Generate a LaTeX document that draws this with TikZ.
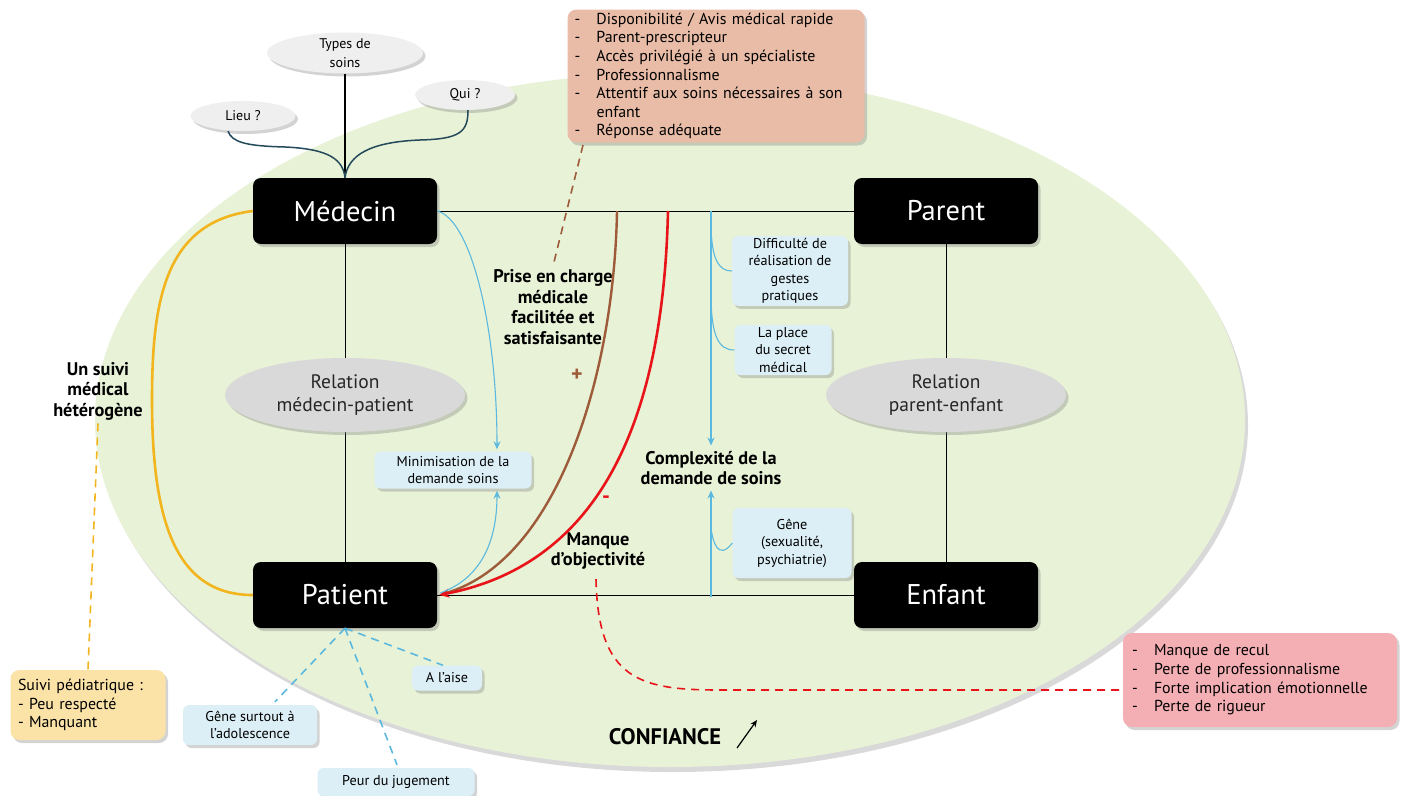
\documentclass[tikz,border=0pt]{standalone}
\usepackage{fontspec}
\setmainfont{PT Sans}
\usetikzlibrary{shadows,arrows.meta,shapes.geometric,calc}
\definecolor{bggreen}{HTML}{E8F2D7}
\definecolor{relgray}{HTML}{D9D9D9}
\definecolor{bubgray}{HTML}{EFEFEF}
\definecolor{lblue}{HTML}{DCEFF6}
\definecolor{bline}{HTML}{5BB8DE}
\definecolor{brownc}{HTML}{9E5B3A}
\definecolor{redc}{HTML}{E8141A}
\definecolor{goldc}{HTML}{F2B51E}
\definecolor{yellowbox}{HTML}{FBE3A8}
\definecolor{salmon}{HTML}{E8BCA6}
\definecolor{pinkbox}{HTML}{F4AFB4}
\definecolor{slate}{HTML}{24495A}
\tikzset{
  shad/.style={drop shadow={shadow xshift=2.5pt,shadow yshift=-3pt,opacity=0.35}},
  blackbox/.style={rectangle,rounded corners=8pt,fill=black,text=white,
    minimum width=184pt,minimum height=66pt,font=\fontsize{28.5}{32}\selectfont,shad},
  relell/.style={ellipse,fill=relgray,minimum width=240pt,minimum height=74pt,
    inner sep=0pt,align=center,font=\fontsize{19.5}{23}\selectfont,text=black!85,shad},
  bubble/.style={ellipse,fill=bubgray,inner sep=0pt,align=center,
    font=\fontsize{14}{19}\selectfont,shad},
  bluebox/.style={rectangle,rounded corners=6pt,fill=lblue,align=center,inner sep=2pt,
    font=\fontsize{14.2}{17.5}\selectfont,shad},
  boldlab/.style={align=center,font=\bfseries\fontsize{18.3}{20.5}\selectfont},
  listbox/.style={rectangle,rounded corners=9pt,align=left,inner sep=0pt,
    font=\fontsize{15.9}{18.6}\selectfont,shad},
  plainline/.style={line width=1pt,black},
  bthick/.style={line width=2.6pt,bline},
  bthin/.style={line width=1.1pt,bline},
  tip/.style={-{Stealth[length=8pt,width=7pt]}},
}
\newcommand{\itm}[1]{\makebox[22pt][l]{-}#1}
\begin{document}
\begin{tikzpicture}[x=1pt,y=-1pt]
\useasboundingbox (0,0) rectangle (1407,795);
% background ellipse
\fill[bggreen,drop shadow={shadow xshift=3pt,shadow yshift=-5pt,opacity=0.3}] (670,420) ellipse [x radius=575,y radius=347];

% main boxes
\node[blackbox] (med) at (345,211) {Médecin};
\node[blackbox] (par) at (946,211) {Parent};
\node[blackbox] (pat) at (345,595) {Patient};
\node[blackbox] (enf) at (946,595) {Enfant};

\draw[plainline] (med.east) -- (par.west);
\draw[plainline] (pat.east) -- (enf.west);
\draw[plainline] (med.south) -- (pat.north);
\draw[plainline] (par.south) -- (enf.north);

\node[relell] (relmp) at (345,395) {Relation\\médecin-patient};
\node[relell] (relpe) at (946,395) {Relation\\parent-enfant};

% bubbles
\node[bubble,minimum width=156pt,minimum height=40pt] (types) at (345,53) {Types de\\soins};
\node[bubble,minimum width=105pt,minimum height=30pt] (lieu) at (243,116) {Lieu ?};
\node[bubble,minimum width=100pt,minimum height=30pt] (qui) at (465,95) {Qui ?};
\draw[line width=1.3pt] (types.south) -- (med.north);
\draw[line width=1.5pt,slate] ($(lieu.south)+(-15,0)$) .. controls (232,142) and (245,146) .. (285,147)
   .. controls (330,149) and (343,160) .. (med.north);
\draw[line width=1.5pt,slate] ($(qui.south)+(3,0)$) .. controls (468,132) and (460,139) .. (420,140)
   .. controls (370,142) and (348,155) .. (med.north);

% salmon box
\node[listbox,fill=salmon,minimum width=297pt,minimum height=133pt,text width=283pt] (sal) at (716,76)
 {\itm{Disponibilité / Avis médical rapide}\\
  \itm{Parent-prescripteur}\\
  \itm{Accès privilégié à un spécialiste}\\
  \itm{Professionnalisme}\\
  \itm{Attentif aux soins nécessaires à son}\\
  \hspace*{22pt}enfant\\
  \itm{Réponse adéquate}};

% labels
\node[boldlab] (prise) at (553,307) {Prise en charge\\médicale\\facilitée et\\satisfaisante};
\node[boldlab] (manque) at (598,551) {Manque\\d’objectivité};
\node[boldlab] (comp) at (711,468) {Complexité de la\\demande de soins};
\node[boldlab] (suivi) at (98,391) {Un suivi\\médical\\hétérogène};
\node[font=\bfseries\fontsize{22}{22}\selectfont,brownc] (plus) at (577,375) {+};
\node[font=\bfseries\fontsize{22}{22}\selectfont,redc] (minus) at (606,500) {-};
\node[font=\bfseries\fontsize{22.5}{24}\selectfont] (conf) at (665,737) {CONFIANCE};
\coordinate (ca1) at (737,748);
\coordinate (ca2) at (757,720);
\draw[line width=1.2pt,-{Stealth[length=7pt,width=6pt]}] (ca1) -- (ca2);

% brown dashed from salmon box
\coordinate (sal0) at (583,145);
\draw[brownc,line width=1.6pt,dash pattern=on 8pt off 6pt] (sal0) -- (prise.north);

% brown and red curves
\coordinate (btop) at (617,211);
\coordinate (rtop) at (668,211);
\draw[brownc,line width=2.4pt] (btop) .. controls (614,380) and (555,565) .. ($(pat.east)+(5,-1)$);
\draw[redc,line width=2.6pt,-{Stealth[length=10pt,width=9pt]}] (rtop) .. controls (664,380) and (622,560) .. ($(pat.east)+(2,0)$);

% mini box and thin blue arrows
\node[bluebox,minimum width=157pt,minimum height=37pt] (mini) at (453,470) {Minimisation de la\\demande soins};
\draw[bthin,tip] (med.east) .. controls (472,220) and (497,330) .. ($(mini.north)+(44,-2)$);
\draw[bthin,tip] ($(pat.east)+(3,-2)$) .. controls (482,578) and (497,540) .. ($(mini.south)+(44,2)$);

% blue vertical arrows
\coordinate (vtop) at (711,211);
\coordinate (vbot) at (711,597);
\draw[bthick,tip] (vtop) -- ($(comp.north)+(0,-2)$);
\draw[bthick,tip] (vbot) -- ($(comp.south)+(0,2)$);

% blue boxes right
\node[bluebox,minimum width=116pt,minimum height=68pt] (diff) at (790,271) {Difficulté de\\réalisation de\\gestes\\pratiques};
\node[bluebox,minimum width=97pt,minimum height=50pt] (secret) at (783,350) {La place\\du secret\\médical};
\node[bluebox,minimum width=119pt,minimum height=70pt] (gene) at (792,543) {Gêne\\(sexualité,\\psychiatrie)};
\draw[bthin] (diff.west) .. controls (718,271) and (712,258) .. (711,228);
\draw[bthin] (secret.west) .. controls (718,350) and (712,335) .. (711,300);
\draw[bthin] (gene.west) .. controls (718,562) and (712,540) .. (711,527);

% yellow follow-up
\draw[goldc,line width=2.6pt] (med.west) .. controls (165,222) and (152,300) .. (152,400)
   .. controls (152,520) and (175,595) .. (pat.west);
\node[listbox,fill=yellowbox,minimum width=155pt,minimum height=70pt,text width=140pt] (yel) at (88,705)
 {Suivi pédiatrique :\\- Peu respecté\\- Manquant};
\draw[goldc,line width=1.6pt,dash pattern=on 8pt off 6pt] (suivi.south) -- (yel.north);

% patient feelings
\node[bluebox,minimum width=70pt,minimum height=25pt] (aise) at (447,678) {A l’aise};
\node[bluebox,minimum width=134pt,minimum height=40pt] (adol) at (250,725) {Gêne surtout à\\l’adolescence};
\node[bluebox,minimum width=157pt,minimum height=28pt] (peur) at (396,782) {Peur du jugement};
\draw[bline,line width=1.6pt,dash pattern=on 8pt off 6pt] (pat.south) -- ($(aise.north)+(-4,0)$);
\draw[bline,line width=1.6pt,dash pattern=on 8pt off 6pt] (pat.south) -- ($(adol.north)+(25,-3)$);
\draw[bline,line width=1.6pt,dash pattern=on 8pt off 6pt] (pat.south) -- ($(peur.north)+(1,-3)$);

% pink box and red dashed
\node[listbox,fill=pinkbox,minimum width=274pt,minimum height=94pt,text width=256pt] (pink) at (1260,680)
 {\itm{Manque de recul}\\
  \itm{Perte de professionnalisme}\\
  \itm{Forte implication émotionnelle}\\
  \itm{Perte de rigueur}};
\draw[redc,line width=1.6pt,dash pattern=on 8pt off 6pt] ($(manque.south)+(-2,6)$) .. controls (598,680) and (640,690) .. (720,690) -- ($(pink.west)+(0,10)$);
\end{tikzpicture}
\end{document}
